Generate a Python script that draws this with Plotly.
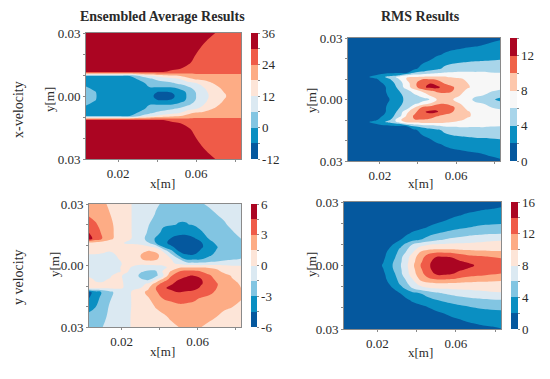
import plotly.graph_objects as go

W, H = 550, 379
FONT = "Liberation Serif"

# ---------- Ensembled average, x-velocity (upper half, mirrored about y=0) ----------
u_x = [3.6, 8, 14, 20, 26, 32, 36, 40, 44, 48, 52, 56, 60, 64, 68, 72, 76, 80, 83]
u_y_upper = [30, 25, 20, 16, 13, 11.5, 11, 10.5, 10, 9.5, 8, 6, 4, 2, 0]
u_upper = [
    [35, 35, 35, 35, 35, 35, 35, 35, 35, 35, 35, 35, 34, 32.5, 30.8, 29, 28, 27.5, 27.5],
    [35, 35, 35, 35, 35, 35, 35, 35, 35, 35, 35, 34, 32.5, 30, 28, 27.5, 27, 27, 27],
    [34, 34, 34, 34, 34, 34, 34, 34, 34, 34, 34, 32, 30, 28, 27.5, 27, 27, 27, 27],
    [33, 33, 33, 33, 33, 33, 33, 33, 33, 33, 32.5, 31, 28, 27.5, 27, 27, 26.5, 26.5, 26.5],
    [32, 32, 32, 32, 32, 32, 32, 32, 32, 31, 30, 28, 27, 26.5, 26.5, 26.5, 26, 26, 26],
    [31, 31, 31, 31, 31, 31, 30.5, 30.5, 30, 28.5, 27, 26, 25.5, 25.5, 25.5, 25.5, 25.5, 25.5, 25.5],
    [25, 25, 25, 25, 25, 25.5, 26, 26, 25.5, 25.5, 25.5, 25, 25, 25, 25, 25, 25, 25, 25],
    [17, 17, 17, 17, 17, 20, 21, 22, 22.5, 23, 23, 23.5, 24, 24, 24, 24, 24, 24, 24],
    [7, 7, 7, 7, 8, 13, 16, 17.5, 19, 20, 21, 22, 22.5, 23, 23, 23, 23, 23, 23],
    [-0.5, -0.5, -0.5, -0.5, 0, 7, 10, 13, 15, 16.5, 18, 20, 21, 21.5, 22, 22.5, 23, 23, 23],
    [-3, -3, -3, -3, -2.5, 1.5, 4.5, 7, 8.5, 10, 12, 16.5, 18.5, 19.5, 20.5, 21, 22, 22.5, 23],
    [-1.5, -3, -3.3, -3.2, -3, -1.5, 1.5, 3, 4, 5.2, 7.2, 9.5, 11.5, 14, 17.5, 20, 21.5, 22.5, 23],
    [0.5, -1.5, -3, -3.5, -3.5, -3, -0.3, -0.3, -0.4, 0, 2, 5, 8.5, 12, 15.5, 18, 20, 22, 23],
    [1.5, 0.3, -3, -3.5, -3.7, -4, -4.4, -5.9, -6.2, -5.5, -2.4, 1.5, 6.5, 10.5, 14, 17, 19, 21.5, 22.5],
    [2, 0.6, -3, -3.5, -3.8, -4.2, -4.8, -7, -8.5, -7, -3, 1, 6, 9.7, 13.5, 16.2, 18.3, 21, 22],
]

# ---------- RMS, x-velocity ----------
ru_x = [3.3, 10, 14, 18, 22, 26, 30, 34, 38, 42, 46, 50, 54, 58, 62, 66, 70, 74, 78, 83]
ru_y = [30, 26, 22, 19, 15, 13, 12, 11, 10, 8, 6, 4, 2, 0, -2, -4, -6, -8, -10, -11, -12, -13, -15, -19, -22, -26, -30]
ru = [
    [.3, .3, .3, .3, .4, .4, .4, .4, .5, .5, .6, .7, .8, .9, 1, 1.1, 1.2, 1.4, 1.6, 1.8],
    [.3, .4, .4, .4, .5, .5, .5, .6, .7, .8, .9, 1, 1.2, 1.4, 1.6, 1.8, 1.95, 2.1, 2.3, 2.5],
    [.4, .5, .5, .5, .6, .6, .7, .7, .9, 1, 1.3, 1.7, 2.2, 2.6, 2.8, 3, 3.1, 3.2, 3.3, 3.4],
    [.5, .6, .6, .7, .7, .8, .9, 1, 1.2, 1.5, 2.0, 2.9, 3.4, 3.6, 3.7, 3.8, 3.9, 3.95, 4, 4.1],
    [.5, .8, .8, .9, 1, 1, 1, 1.2, 1.6, 2.6, 3.2, 3.7, 4.3, 4.6, 4.8, 4.9, 5, 5.1, 5.1, 5.1],
    [.5, 1, 1.2, 1.4, 1.6, 1.7, 1.8, 1.9, 4.2, 4.6, 5.2, 5.6, 6.2, 6.3, 6.4, 6.4, 6.3, 6.3, 6.1, 6],
    [.5, 1.2, 1.6, 1.9, 2.5, 2.9, 3.5, 5.7, 6.3, 6.8, 7.2, 7.3, 7.5, 7.4, 7.3, 7.2, 7.1, 7, 6.9, 6.8],
    [.6, 1.4, 1.9, 2.7, 3.8, 4.8, 6.8, 7.9, 7.9, 8.1, 8.2, 8.2, 8.1, 7.8, 7.6, 7.4, 7.3, 7.2, 7.1, 7],
    [.6, 1.2, 1.5, 1.8, 3, 4.2, 6, 8.1, 9.4, 9.8, 9.9, 9.7, 9, 8.6, 8.2, 7.7, 7.5, 7.3, 7.2, 7.1],
    [.6, 1.1, 1.4, 1.6, 2.1, 3.4, 5, 7.2, 9.3, 11.4, 11.9, 10.9, 9.8, 9.1, 8.4, 8, 7.7, 7.4, 7.2, 7],
    [.6, .9, 1.1, 1.3, 1.7, 2.8, 4.6, 7, 9, 11.4, 12.5, 12.6, 11, 10.3, 9, 8.2, 7.5, 7.3, 6.9, 6.6],
    [.5, .7, .8, 1, 1.6, 2.9, 3.9, 4.9, 7, 8.1, 9.4, 10.3, 10.5, 10, 8.6, 7.5, 6.5, 6.4, 6.1, 5.6],
    [.4, .5, .6, .8, 1.4, 2.6, 3.6, 4.5, 5.5, 6.6, 8, 9, 9.3, 8.8, 8, 7, 6.2, 6, 5.5, 4.8],
    [.4, .4, .5, .7, 1, 2.3, 3.6, 4.3, 4.9, 5.3, 6, 8.1, 8.5, 8.1, 7.3, 6.5, 5.7, 5.3, 4.6, 3.4],
    [.4, .5, .6, .8, 1.4, 2.6, 3.6, 4.5, 5.5, 6.6, 8, 9.6, 9.9, 9.2, 8, 7, 6.2, 6, 5.5, 4.8],
    [.5, .7, .8, 1, 1.6, 2.9, 3.9, 4.9, 7.9, 10.4, 11, 11.5, 11, 10.5, 8.8, 7.5, 6.5, 6.4, 6.1, 5.6],
    [.6, .9, 1.1, 1.3, 1.7, 2.8, 4.6, 7.5, 9.2, 11.6, 12.4, 12.2, 10.8, 10.1, 9, 8.2, 7.5, 7.3, 6.9, 6.6],
    [.6, 1.1, 1.4, 1.6, 2.1, 3.4, 5.2, 8.2, 10.3, 11.7, 11.3, 10.1, 9.6, 9.1, 8.7, 8.2, 7.7, 7.4, 7.2, 7],
    [.6, 1.2, 1.5, 1.8, 3, 4.2, 7.6, 8.9, 9.9, 9.8, 9.5, 9.2, 8.9, 8.5, 8.2, 7.7, 7.5, 7.3, 7.2, 7.1],
    [.6, 1.4, 1.9, 2.7, 3.8, 4.8, 6.5, 8.3, 8.6, 8.8, 8.6, 8.5, 8.3, 8, 7.7, 7.4, 7.3, 7.2, 7.1, 7],
    [.5, 1.2, 1.6, 1.9, 2.5, 2.9, 3.5, 5.7, 6.3, 6.9, 7.3, 7.5, 7.4, 7.4, 7.3, 7.2, 7.1, 7, 6.9, 6.8],
    [.5, 1, 1.2, 1.4, 1.6, 1.7, 1.8, 1.9, 4.2, 4.6, 5.2, 5.6, 6.2, 6.3, 6.4, 6.4, 6.3, 6.3, 6.1, 6],
    [.5, .8, .8, .9, 1, 1, 1, 1.2, 1.6, 2.6, 3.2, 3.7, 4.3, 4.6, 4.8, 4.9, 5, 5.1, 5.1, 5.1],
    [.5, .6, .6, .7, .7, .8, .9, 1, 1.2, 1.5, 2.0, 2.9, 3.4, 3.6, 3.7, 3.8, 3.9, 3.95, 4, 4.1],
    [.4, .5, .5, .5, .6, .6, .7, .7, .9, 1, 1.3, 1.7, 2.2, 2.6, 2.8, 3, 3.1, 3.2, 3.3, 3.4],
    [.3, .4, .4, .4, .5, .5, .5, .6, .7, .8, .9, 1, 1.2, 1.4, 1.6, 1.8, 1.95, 2.1, 2.3, 2.5],
    [.3, .3, .3, .3, .4, .4, .4, .4, .5, .5, .6, .7, .8, .9, 1, 1.1, 1.2, 1.4, 1.6, 1.8],
]

# ---------- Ensembled average, y velocity ----------
v_x = [2.8, 6, 10, 14, 18, 22, 26, 30, 34, 38, 42, 46, 50, 54, 58, 62, 66, 70, 74, 78, 82.8]
v_y = [30, 25, 20, 16, 13, 11, 9, 7, 5, 3, 1, -1, -3, -5, -7, -9, -11, -13, -16, -20, -25, -30]
v = [
    [2.7, 2.3, 1.8, 1.2, .9, .4, -.1, -.3, -.6, -1.3, -1.7, -1.9, -1.9, -2, -1.9, -1.6, -1.3, -1.1, -1, -.7, -.5],
    [2.8, 2.5, 2.1, 1.5, .9, .4, -.1, -.4, -.9, -1.6, -2.2, -2.6, -2.8, -2.8, -2.6, -2.3, -1.9, -1.5, -1.3, -1.1, -.9],
    [3.7, 3.2, 2.5, 1.8, 1, .4, -.1, -.6, -1.4, -2.2, -2.8, -2.9, -3.05, -3.05, -2.9, -2.7, -2.4, -2.1, -1.6, -1.3, -1.1],
    [4.5, 3.6, 2.8, 1.9, 1, .4, -.1, -.7, -1.7, -2.5, -3.4, -3.8, -4.2, -4.2, -3.8, -3.1, -2.7, -2.2, -2, -1.6, -1.25],
    [5.2, 3.9, 2.9, 1.8, 1, .3, -.1, -.9, -2, -3.2, -4, -4.6, -4.9, -5, -4.7, -4, -2.95, -2.6, -2.2, -1.9, -1.5],
    [1, .9, .7, .5, .4, -.1, -.2, -.4, -1.4, -3, -4.2, -4.8, -5.3, -5.6, -5.3, -4.6, -3.4, -2.8, -2.3, -1.9, -1.7],
    [.7, .7, .6, .5, .5, .5, .5, .5, .4, -.3, -3, -4.3, -4.9, -5.6, -5.6, -4.7, -3.7, -3.1, -2.3, -1.9, -1.7],
    [.3, .3, .2, .05, .3, .5, .6, .9, 1.6, 1.3, -.2, -2.5, -4.5, -5.2, -5.3, -4.1, -3.5, -2.9, -2, -1.8, -1.7],
    [-.1, -.1, -.2, -.3, .1, .5, .8, 1.5, 2.1, 1.9, .9, -.9, -3.2, -4.3, -4.3, -3.7, -3.2, -2.6, -2, -1.8, -1.7],
    [-.2, -.2, -.3, -.3, -.05, .3, .7, 1.4, 1.9, 1.7, .8, .1, -1.2, -3.1, -3.1, -3, -2.5, -2.2, -1.8, -1.6, -1.45],
    [-.2, -.3, -.4, -.4, -.15, .15, .2, .3, .6, .6, .5, .2, -.2, -.8, -1.1, -1.1, -.9, -.8, -.7, -.6, -.5],
    [-.2, -.3, -.5, -.5, -.1, .2, -.1, -.6, -.9, -.8, -.4, .5, 1.3, 1.5, 1.6, 1.5, 1.4, 1.2, .8, .5, .4],
    [-.15, -.3, -.4, -.4, -.1, .2, -.4, -1.4, -1.7, -1.7, .3, 1.7, 3, 3.5, 3.5, 3, 2.5, 1.9, 1.2, .9, .6],
    [-.1, -.2, -.3, -.1, .4, -.3, -.8, -1.8, -2.1, -1.9, 0, 2.9, 3.6, 4.2, 4.55, 3.9, 3.2, 2.5, 2, 1.4, 1],
    [.2, -.05, -.1, .1, .5, -.3, -.6, -1.3, -1.65, .1, 2.3, 3.6, 4.5, 5.2, 5.3, 4.6, 3.5, 2.8, 2.2, 1.6, 1.2],
    [.2, .1, .1, .3, .5, -.2, -.4, -.5, .3, 2.3, 3.7, 4.3, 5.2, 5.7, 5.6, 4.6, 3.8, 3.1, 2.4, 1.8, 1.4],
    [.2, .2, .2, .2, .2, -.1, -.1, 0, 1.3, 3, 4.2, 5, 5.4, 5.7, 5.2, 4.1, 3.4, 3, 2.5, 2, 1.5],
    [-5, -3.8, -2.8, -1.8, -1, -.3, .1, 1, 1.9, 2.8, 3.7, 3.9, 4.5, 4.2, 3.9, 3.6, 3.3, 2.8, 2.4, 2, 1.6],
    [-4.5, -3.5, -2.6, -1.6, -.9, -.3, .1, .7, 1.4, 2.2, 3.1, 3.4, 3.4, 3.3, 3.2, 2.9, 2.7, 2.3, 2.1, 1.9, 1.6],
    [-3.5, -3.1, -2.2, -1.3, -.8, -.3, .1, .5, 1, 1.6, 2, 2.4, 2.8, 2.8, 2.7, 2.4, 2.1, 1.9, 1.7, 1.55, 1.2],
    [-2.6, -2.3, -1.8, -1.2, -.7, -.2, .1, .4, .7, 1, 1.3, 1.7, 1.9, 2, 2, 1.9, 1.7, 1.5, 1.2, 1, .8],
    [-1.9, -1.8, -1.5, -1.1, -.7, -.2, .1, .3, .5, .8, 1, 1.2, 1.5, 1.6, 1.6, 1.5, 1.3, 1.1, .9, .7, .6],
]

# ---------- RMS, y velocity (upper rows reused below the axis with their own y values) ----------
rv_x = [3, 12, 20, 23, 26, 29, 32, 35, 38, 42, 46, 50, 54, 58, 62, 66, 70, 74, 78, 83]
rv_y_upper = [30, 27, 24, 21, 18, 15, 12, 10, 8, 6, 4, 2, 0]
rv_y_lower = [-2.2, -4.3, -6.5, -8.7, -10.8, -13, -16.2, -19.4, -22.7, -25.9, -29.2, -32.4]
rv_upper = [
    [.1, .1, .1, .1, .1, .1, .1, .1, .2, .2, .3, .4, .5, .6, .7, .8, 1, 1.2, 1.3, 1.5],
    [.1, .1, .1, .1, .1, .1, .2, .2, .3, .4, .5, .6, .8, 1, 1.2, 1.4, 1.6, 1.8, 1.9, 2.1],
    [.1, .1, .1, .1, .2, .2, .3, .4, .5, .7, .9, 1.1, 1.3, 1.6, 1.9, 2.2, 2.4, 2.6, 2.8, 2.9],
    [.1, .1, .2, .2, .3, .4, .5, .7, .9, 1.1, 1.4, 1.7, 2, 2.4, 2.6, 2.9, 3.1, 3.3, 3.4, 3.5],
    [.1, .2, .2, .3, .4, .6, .9, 1.2, 1.4, 1.7, 2.1, 2.5, 3, 3.4, 3.7, 3.95, 4.2, 4.4, 4.5, 4.6],
    [.1, .2, .3, .5, .7, 1, 1.4, 1.8, 2.3, 2.8, 3.4, 4, 4.4, 4.7, 5, 5.3, 5.6, 5.8, 5.9, 6],
    [.2, .3, .5, .7, 1, 1.4, 2.1, 2.9, 3.6, 4.1, 5, 5.8, 6.2, 6.6, 7, 7.3, 7.5, 7.6, 7.8, 7.9],
    [.2, .3, .6, .9, 1.4, 2.3, 3.4, 4.5, 6, 7.1, 7.8, 8.1, 8.2, 8.3, 8.3, 8.3, 8.4, 8.5, 8.5, 8.6],
    [.2, .3, .7, 1.1, 2, 3.2, 4.3, 5.7, 7, 8.8, 9.3, 9.6, 9.6, 9.6, 9.5, 9.5, 9.4, 9.4, 9.4, 9.4],
    [.3, .4, .8, 1.4, 2.5, 3.5, 4.9, 6.4, 8, 10.4, 11.6, 12.1, 12.1, 11.9, 11.5, 11, 10.8, 10.7, 10.5, 10.4],
    [.3, .5, 1, 1.6, 2.8, 3.9, 5.6, 7.3, 9, 11.2, 12.9, 14, 14.1, 13.9, 13.2, 12.8, 12.5, 12.3, 12, 11.7],
    [.3, .5, 1.1, 1.9, 3.1, 4.3, 5.8, 7.5, 9.3, 11.6, 13.5, 14.7, 15.1, 14.8, 14.1, 13.7, 13.5, 13.3, 13.1, 12.8],
    [.3, .5, 1.3, 2.2, 3.3, 4.5, 6, 7.7, 9.6, 12, 13.7, 15, 15.5, 15.3, 14.9, 14.5, 13.9, 13.6, 13.3, 13],
]

# ---------- Colour bands and colourbar ticks ----------
BLUE_RED_8 = ["#05589e", "#0a8fc2", "#82c5e2", "#dbe9f2", "#fde5d8", "#fdac85", "#ef5b48", "#ab0522"]
BLUE_RED_7 = ["#05589e", "#0a8fc2", "#a8d5ea", "#f7f7f7", "#fdc7ac", "#ef6349", "#ab0522"]

u_levels = [-12, 36, 6]
ru_levels = [0, 14, 2]
v_levels = [-6, 6, 1.5]
rv_levels = [0, 16, 2]
u_bar_ticks = ([-12, -6, 0, 6, 12, 18, 24, 30, 36], ["-12", "", "0", "", "12", "", "24", "", "36"])
ru_bar_ticks = ([0, 2, 4, 6, 8, 10, 12, 14], ["0", "", "4", "", "8", "", "12", ""])
v_bar_ticks = ([-6, -4.5, -3, -1.5, 0, 1.5, 3, 4.5, 6], ["-6", "", "-3", "", "0", "", "3", "", "6"])
rv_bar_ticks = ([0, 2, 4, 6, 8, 10, 12, 14, 16], ["0", "", "4", "", "8", "", "12", "", "16"])

x_ticks = [0.02, 0.04, 0.06, 0.08]
x_labels = ["0.02", "", "0.06", ""]
y_ticks = [-0.03, -0.02, -0.01, 0, 0.01, 0.02, 0.03]
y_labels = ["0.03", "", "", "0.00", "", "", "0.03"]


def step_scale(colors):
    n = len(colors)
    out = []
    for i, c in enumerate(colors):
        out += [[i / n, c], [(i + 1) / n, c]]
    return out


# left, right, top, bottom of plot; left, right of colourbar (pixels)
panels = [
    dict(box=(86, 241, 33, 159), bar=(251, 258), x=u_x,
         y=u_y_upper + [-a for a in reversed(u_y_upper[:-1])],
         z=u_upper + u_upper[-2::-1], lev=u_levels, col=BLUE_RED_8, bt=u_bar_ticks),
    dict(box=(348, 500, 38, 161), bar=(509.5, 516), x=ru_x, y=ru_y, z=ru,
         lev=ru_levels, col=BLUE_RED_7, bt=ru_bar_ticks),
    dict(box=(89, 241, 204, 327), bar=(251, 257), x=v_x, y=v_y, z=v,
         lev=v_levels, col=BLUE_RED_8, bt=v_bar_ticks),
    dict(box=(344, 501, 202, 329), bar=(511, 517.5), x=rv_x,
         y=rv_y_upper + rv_y_lower, z=rv_upper + rv_upper[-2::-1],
         lev=rv_levels, col=BLUE_RED_8, bt=rv_bar_ticks),
]

TXT = "#2a2a2a"
FRAME = "#8a8a8a"
fig = go.Figure()
layout = {}
for i, p in enumerate(panels):
    n = "" if i == 0 else str(i + 1)
    l, r, t, b = p["box"]
    bl, br = p["bar"]
    s, e, st = p["lev"]
    fig.add_trace(go.Contour(
        x=[a / 1000 for a in p["x"]],
        y=[a / 1000 for a in p["y"]][::-1],
        z=p["z"][::-1],
        xaxis="x" + n, yaxis="y" + n,
        autocontour=False,
        contours=dict(start=s, end=e, size=st, coloring="fill", showlines=False),
        line=dict(width=0, smoothing=1.3),
        colorscale=step_scale(p["col"]), zmin=s, zmax=e,
        hoverinfo="skip",
        colorbar=dict(
            x=bl / W, xanchor="left", xpad=0, ypad=0,
            thickness=br - bl, thicknessmode="pixels",
            y=1 - b / H, yanchor="bottom", len=(b - t) / H, lenmode="fraction",
            tickmode="array", tickvals=p["bt"][0], ticktext=p["bt"][1],
            ticks="outside", ticklen=2, tickcolor=FRAME, tickwidth=1,
            outlinewidth=0, tickfont=dict(family=FONT, size=13, color=TXT),
        ),
    ))
    layout["xaxis" + n] = dict(
        domain=[l / W, r / W], range=[p["x"][0] / 1000, p["x"][-1] / 1000],
        anchor="y" + n, tickmode="array", tickvals=x_ticks, ticktext=x_labels,
        ticks="outside", ticklen=2, tickcolor=FRAME, tickwidth=1,
        showgrid=False, zeroline=False, showline=True, linecolor=FRAME, linewidth=1, mirror=True,
        tickfont=dict(family=FONT, size=13, color=TXT), automargin=False,
    )
    layout["yaxis" + n] = dict(
        domain=[1 - b / H, 1 - t / H], range=[-0.03, 0.03],
        anchor="x" + n, tickmode="array", tickvals=y_ticks, ticktext=y_labels,
        ticks="outside", ticklen=2, tickcolor=FRAME, tickwidth=1,
        showgrid=False, zeroline=False, showline=True, linecolor=FRAME, linewidth=1, mirror=True,
        tickfont=dict(family=FONT, size=13, color=TXT), automargin=False,
    )


def label(text, x, y, size=13, angle=0, bold=False):
    return dict(text=f"<b>{text}</b>" if bold else text, x=x / W, y=1 - y / H,
                xref="paper", yref="paper", showarrow=False, textangle=angle,
                xanchor="center", yanchor="middle",
                font=dict(family=FONT, size=size, color=TXT))


annotations = [
    label("Ensembled Average Results", 162, 17, 14, bold=True),
    label("RMS Results", 420, 17, 14, bold=True),
    label("x-velocity", 18, 110, 14, -90),
    label("y velocity", 18, 277, 14, -90),
    label("x[m]", 162, 184),
    label("x[m]", 420, 183),
    label("x[m]", 162, 351),
    label("x[m]", 420, 352),
    label("y[m]", 50, 100, 13, -90),
    label("y[m]", 311, 101, 13, -90),
    label("y[m]", 54, 265, 13, -90),
    label("y[m]", 311, 265, 13, -90),
]

fig.update_layout(
    width=W, height=H, margin=dict(l=0, r=0, t=0, b=0, pad=0),
    paper_bgcolor="white", plot_bgcolor="white", showlegend=False,
    annotations=annotations, **layout,
)
fig.write_html("out.html", config={"displayModeBar": False},
               post_script="document.body.style.margin='0';")
